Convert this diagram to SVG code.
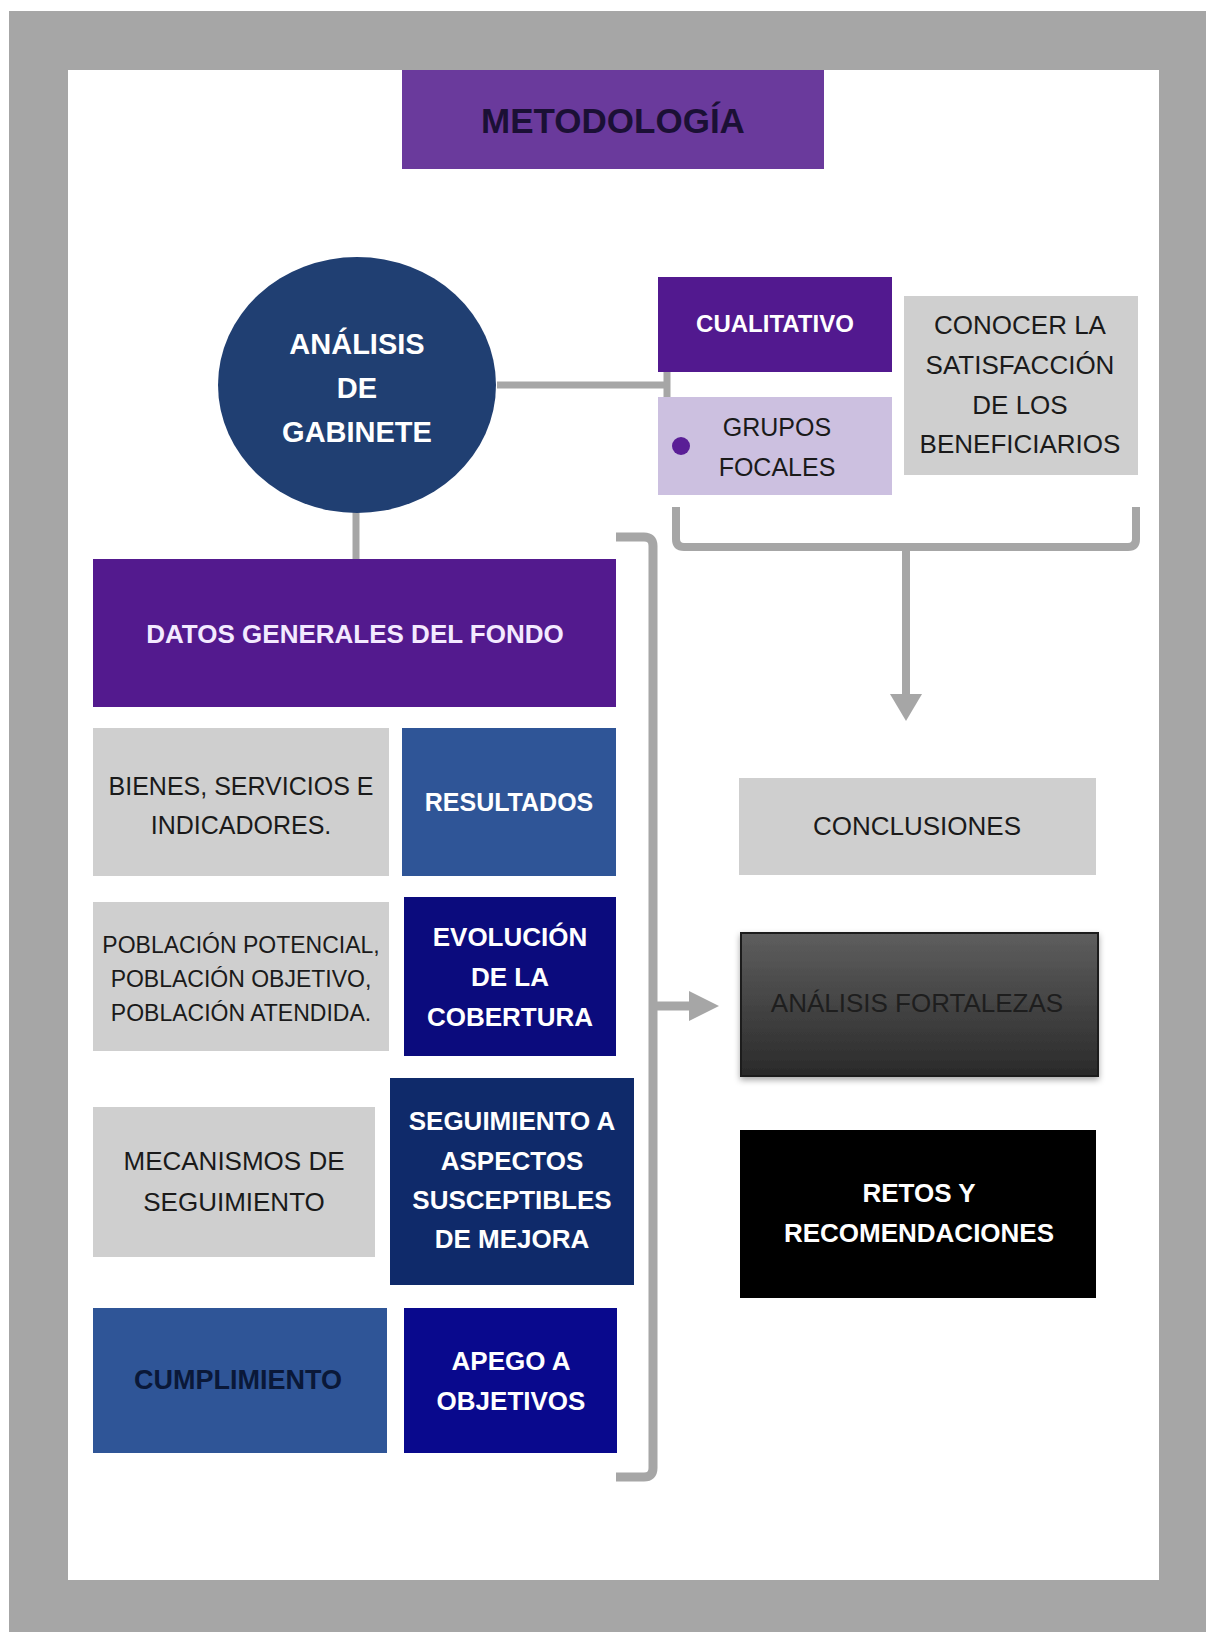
<svg xmlns="http://www.w3.org/2000/svg" width="1206" height="1632" viewBox="0 0 1206 1632">
<defs>
<style>
text{font-family:"Liberation Sans",Arial,sans-serif;text-anchor:middle;dominant-baseline:central}
.w{fill:#ffffff;font-weight:bold}
.d{fill:#1a1a1a}
.conn{fill:none;stroke:#a6a6a6}
.gray{fill:#cfcfcf}
</style>
<linearGradient id="gf" x1="0" y1="0" x2="0" y2="1">
<stop offset="0" stop-color="#5e5e5e"/>
<stop offset="1" stop-color="#2a2a2a"/>
</linearGradient>
<filter id="sh" x="-10%" y="-10%" width="120%" height="130%">
<feDropShadow dx="0" dy="3" stdDeviation="3" flood-color="#000" flood-opacity="0.35"/>
</filter>
</defs>
<rect x="0" y="0" width="1206" height="1632" fill="#ffffff"/>
<rect x="9" y="11" width="1197" height="1621" fill="#a6a6a6"/>
<rect x="68" y="70" width="1091" height="1510" fill="#ffffff"/>

<g id="connectors">
<path class="conn" stroke-width="7" d="M497,385 L667,385 M667,371 L667,397"/>
<path class="conn" stroke-width="7" d="M356,512 L356,559"/>
<path class="conn" stroke-width="8" d="M676,507 L676,539 Q676,547 684,547 L1128,547 Q1136,547 1136,539 L1136,507"/>
<path class="conn" stroke-width="8" d="M906,547 L906,696"/>
<polygon points="890,694 922,694 906,721" fill="#a6a6a6"/>
<path class="conn" stroke-width="9" d="M616,537 L644,537 Q653,537 653,546 L653,1468 Q653,1477 644,1477 L616,1477"/>
<path class="conn" stroke-width="9" d="M653,1006 L692,1006"/>
<polygon points="689,991 719,1006 689,1021" fill="#a6a6a6"/>
</g>

<g id="metodologia">
<rect x="402" y="70" width="422" height="99" fill="#6a3a9c"/>
<text x="613" y="120" font-size="35" font-weight="bold" fill="#1b1035">METODOLOGÍA</text>
</g>

<g id="analisis-gabinete">
<ellipse cx="357" cy="385" rx="139" ry="128" fill="#203f72"/>
<text class="w" x="357" y="344" font-size="29">ANÁLISIS</text>
<text class="w" x="357" y="388" font-size="29">DE</text>
<text class="w" x="357" y="432" font-size="29">GABINETE</text>
</g>

<g id="cualitativo">
<rect x="658" y="277" width="234" height="95" fill="#52198f"/>
<text class="w" x="775" y="323" font-size="24">CUALITATIVO</text>
</g>

<g id="grupos-focales">
<rect x="658" y="397" width="234" height="98" fill="#ccc0e0"/>
<circle cx="681" cy="446" r="9" fill="#5a1e96"/>
<text class="d" x="777" y="427" font-size="25">GRUPOS</text>
<text class="d" x="777" y="467" font-size="25">FOCALES</text>
</g>

<g id="conocer">
<rect class="gray" x="904" y="296" width="234" height="179"/>
<text class="d" x="1020" y="325" font-size="26">CONOCER LA</text>
<text class="d" x="1020" y="365" font-size="26">SATISFACCIÓN</text>
<text class="d" x="1020" y="405" font-size="26">DE LOS</text>
<text class="d" x="1020" y="444" font-size="26">BENEFICIARIOS</text>
</g>

<g id="datos-generales">
<rect x="93" y="559" width="523" height="148" fill="#531a8e"/>
<text x="355" y="634" font-size="26" font-weight="bold" fill="#f3eaff">DATOS GENERALES DEL FONDO</text>
</g>

<g id="bienes">
<rect class="gray" x="93" y="728" width="296" height="148"/>
<text class="d" x="241" y="786" font-size="25">BIENES, SERVICIOS E</text>
<text class="d" x="241" y="825" font-size="25">INDICADORES.</text>
</g>

<g id="resultados">
<rect x="402" y="728" width="214" height="148" fill="#2f5597"/>
<text class="w" x="509" y="802" font-size="25">RESULTADOS</text>
</g>

<g id="poblacion">
<rect class="gray" x="93" y="902" width="296" height="149"/>
<text class="d" x="241" y="945" font-size="23">POBLACIÓN POTENCIAL,</text>
<text class="d" x="241" y="979" font-size="23">POBLACIÓN OBJETIVO,</text>
<text class="d" x="241" y="1013" font-size="23">POBLACIÓN ATENDIDA.</text>
</g>

<g id="evolucion">
<rect x="404" y="897" width="212" height="159" fill="#0b0b7d"/>
<text class="w" x="510" y="937" font-size="26">EVOLUCIÓN</text>
<text class="w" x="510" y="977" font-size="26">DE LA</text>
<text class="w" x="510" y="1017" font-size="26">COBERTURA</text>
</g>

<g id="mecanismos">
<rect class="gray" x="93" y="1107" width="282" height="150"/>
<text class="d" x="234" y="1161" font-size="26">MECANISMOS DE</text>
<text class="d" x="234" y="1202" font-size="26">SEGUIMIENTO</text>
</g>

<g id="seguimiento">
<rect x="390" y="1078" width="244" height="207" fill="#0f2a6a"/>
<text class="w" x="512" y="1121" font-size="26">SEGUIMIENTO A</text>
<text class="w" x="512" y="1161" font-size="26">ASPECTOS</text>
<text class="w" x="512" y="1200" font-size="26">SUSCEPTIBLES</text>
<text class="w" x="512" y="1239" font-size="26">DE MEJORA</text>
</g>

<g id="cumplimiento">
<rect x="93" y="1308" width="294" height="145" fill="#2f5597"/>
<text x="238" y="1380" font-size="27" font-weight="bold" fill="#0a1838">CUMPLIMIENTO</text>
</g>

<g id="apego">
<rect x="404" y="1308" width="213" height="145" fill="#09098d"/>
<text class="w" x="511" y="1361" font-size="26">APEGO A</text>
<text class="w" x="511" y="1401" font-size="26">OBJETIVOS</text>
</g>

<g id="conclusiones">
<rect class="gray" x="739" y="778" width="357" height="97"/>
<text class="d" x="917" y="826" font-size="26">CONCLUSIONES</text>
</g>

<g id="analisis-fortalezas">
<rect x="741" y="933" width="357" height="143" fill="url(#gf)" stroke="#1a1a1a" stroke-width="2" filter="url(#sh)"/>
<text x="917" y="1003" font-size="26" fill="#1e1e1e">ANÁLISIS FORTALEZAS</text>
</g>

<g id="retos">
<rect x="740" y="1130" width="356" height="168" fill="#000000"/>
<text class="w" x="919" y="1193" font-size="26">RETOS Y</text>
<text class="w" x="919" y="1233" font-size="26">RECOMENDACIONES</text>
</g>
</svg>
